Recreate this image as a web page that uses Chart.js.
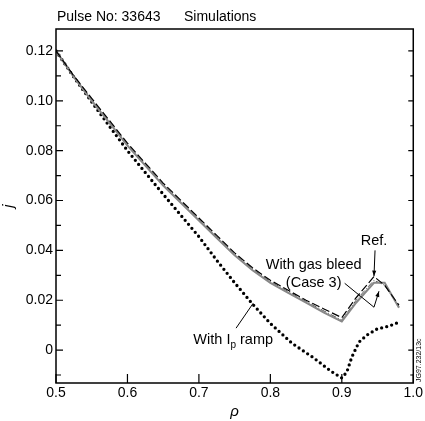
<!DOCTYPE html>
<html>
<head>
<meta charset="utf-8">
<script src="https://cdn.jsdelivr.net/npm/chart.js@4"></script>
<style>
  html, body { margin: 0; padding: 0; background: #fff; }
  #wrap { width: 425px; height: 421px; }
</style>
</head>
<body>
<div id="wrap"><canvas id="canvas" width="425" height="421"></canvas></div>
<script>
// data
var rhoMain = [0.5, 0.525, 0.55, 0.575, 0.6, 0.625, 0.65, 0.675, 0.7, 0.725, 0.75, 0.775, 0.8, 0.825, 0.85, 0.875, 0.9, 0.92, 0.945, 0.96, 0.98];
var jRef    = [0.120, 0.110, 0.101, 0.092, 0.083, 0.075, 0.067, 0.060, 0.053, 0.046, 0.039, 0.033, 0.028, 0.024, 0.020, 0.0165, 0.013, 0.021, 0.0295, 0.026, 0.018];
var jGas    = [0.120, 0.1095, 0.100, 0.091, 0.082, 0.074, 0.066, 0.059, 0.052, 0.045, 0.038, 0.032, 0.027, 0.023, 0.019, 0.015, 0.0115, 0.019, 0.027, 0.027, 0.017];
var jCase   = [0.120, 0.110, 0.1005, 0.0915, 0.0825, 0.0745, 0.0665, 0.0595, 0.0525, 0.0455, 0.0385, 0.0325, 0.0275, 0.0235, 0.0195, 0.0157, 0.012, 0.020, 0.028, 0.026, 0.0175];

var rhoRamp = [0.5, 0.525, 0.55, 0.575, 0.6, 0.625, 0.65, 0.675, 0.7, 0.725, 0.75, 0.775, 0.8, 0.83, 0.86, 0.885, 0.9, 0.907, 0.914, 0.924, 0.935, 0.949, 0.966, 0.98];
var jRamp   = [0.120, 0.1095, 0.0995, 0.0897, 0.080, 0.0712, 0.0625, 0.054, 0.0455, 0.036, 0.027, 0.0185, 0.0107, 0.0028, -0.003, -0.0085, -0.0112, -0.0088, -0.0028, 0.0032, 0.006, 0.0084, 0.0096, 0.0112];

var xTicks = [0.5, 0.6, 0.7, 0.8, 0.9, 1.0];
var yMajor = [0, 0.02, 0.04, 0.06, 0.08, 0.10, 0.12];
var yMinor = [-0.01, 0.01, 0.03, 0.05, 0.07, 0.09, 0.11];

function pts(xs, ys) {
  return xs.map(function (x, i) { return { x: x, y: ys[i] }; });
}

var FONT = '"Liberation Sans", Arial, sans-serif';

var decor = {
  id: 'decor',
  afterDraw: function (chart) {
    var c = chart.ctx, a = chart.chartArea;
    var xs = chart.scales.x, ys = chart.scales.y;
    c.save();
    // frame
    c.strokeStyle = '#000';
    c.lineWidth = 1.5;
    c.strokeRect(a.left, a.top, a.right - a.left, a.bottom - a.top);
    // inward ticks
    c.lineWidth = 1.2;
    c.beginPath();
    xTicks.forEach(function (v) {
      var px = xs.getPixelForValue(v);
      c.moveTo(px, a.bottom); c.lineTo(px, a.bottom - 9);
    });
    yMajor.forEach(function (v) {
      var py = ys.getPixelForValue(v);
      c.moveTo(a.left, py); c.lineTo(a.left + 7, py);
      c.moveTo(a.right, py); c.lineTo(a.right - 5, py);
    });
    yMinor.forEach(function (v) {
      var py = ys.getPixelForValue(v);
      c.moveTo(a.left, py); c.lineTo(a.left + 5, py);
      c.moveTo(a.right, py); c.lineTo(a.right - 3, py);
    });
    c.stroke();

    // title
    c.fillStyle = '#000';
    c.font = '14px ' + FONT;
    c.textBaseline = 'alphabetic';
    c.textAlign = 'left';
    c.fillText('Pulse No: 33643', 57, 21);
    c.fillText('Simulations', 184, 21);

    // annotations (placed in data units)
    function P(x, y) { return [xs.getPixelForValue(x), ys.getPixelForValue(y)]; }
    c.font = '14.5px ' + FONT;
    c.textAlign = 'center';
    c.textBaseline = 'middle';
    var p = P(0.945, 0.0436); c.fillText('Ref.', p[0], p[1]);
    p = P(0.8606, 0.034); c.fillText('With gas bleed', p[0], p[1]);
    p = P(0.8606, 0.0268); c.fillText('(Case 3)', p[0], p[1]);

    // With Ip ramp (subscript p)
    p = P(0.748, 0.004);
    c.textAlign = 'left';
    var w1 = c.measureText('With I').width;
    c.font = '10px ' + FONT;
    var wp = c.measureText('p').width;
    c.font = '14.5px ' + FONT;
    var w2 = c.measureText(' ramp').width;
    var x0 = p[0] - (w1 + wp + w2) / 2;
    c.fillText('With I', x0, p[1]);
    c.font = '10px ' + FONT;
    c.fillText('p', x0 + w1, p[1] + 5);
    c.font = '14.5px ' + FONT;
    c.fillText(' ramp', x0 + w1 + wp, p[1]);

    // leader lines and arrows
    c.lineWidth = 1;
    function arrow(from, to) {
      var ang = Math.atan2(to[1] - from[1], to[0] - from[0]);
      c.beginPath();
      c.moveTo(to[0], to[1]);
      c.lineTo(to[0] - 6 * Math.cos(ang - 0.35), to[1] - 6 * Math.sin(ang - 0.35));
      c.lineTo(to[0] - 6 * Math.cos(ang + 0.35), to[1] - 6 * Math.sin(ang + 0.35));
      c.closePath();
      c.fill();
    }
    var r1 = P(0.9465, 0.040), r2 = P(0.945, 0.0296);
    c.beginPath(); c.moveTo(r1[0], r1[1]); c.lineTo(r2[0], r2[1]); c.stroke();
    arrow(r1, r2);
    var g1 = P(0.904, 0.0268), g2 = P(0.945, 0.0172), g3 = P(0.952, 0.0236);
    c.beginPath(); c.moveTo(g1[0], g1[1]); c.lineTo(g2[0], g2[1]); c.lineTo(g3[0], g3[1]); c.stroke();
    arrow(g2, g3);
    var i1 = P(0.752, 0.0088), i2 = P(0.776, 0.0188);
    c.beginPath(); c.moveTo(i1[0], i1[1]); c.lineTo(i2[0], i2[1]); c.stroke();

    // figure id
    c.font = '7px ' + FONT;
    c.translate(419, 382);
    c.rotate(-Math.PI / 2);
    c.textAlign = 'left';
    c.textBaseline = 'middle';
    c.fillText('JG97.232/13c', 0, 0);
    c.restore();
  }
};

var options = {
  type: 'line',
  data: {
    datasets: [
      {
        label: 'Ref.',
        data: pts(rhoMain, jRef),
        borderColor: '#000',
        borderWidth: 1.2,
        borderDash: [8, 3],
        pointRadius: 0,
        fill: false
      },
      {
        label: 'With gas bleed (Case 3)',
        data: pts(rhoMain, jGas),
        borderColor: '#888',
        borderWidth: 2,
        pointRadius: 0,
        fill: false
      },
      {
        label: 'Case 3 edge',
        data: pts(rhoMain, jCase),
        borderColor: '#555',
        borderWidth: 1,
        borderDash: [6, 2, 1, 2],
        pointRadius: 0,
        fill: false
      },
      {
        label: 'With Ip ramp',
        data: pts(rhoRamp, jRamp),
        borderColor: '#000',
        borderWidth: 3.3,
        borderDash: [0, 5.2],
        borderCapStyle: 'round',
        pointRadius: 0,
        fill: false
      }
    ]
  },
  options: {
    responsive: false,
    animation: false,
    layout: { padding: { top: 29, right: 11, left: 0, bottom: 0 } },
    plugins: { legend: { display: false }, tooltip: { enabled: false } },
    scales: {
      x: {
        type: 'linear',
        min: 0.5,
        max: 1.0,
        afterBuildTicks: function (s) { s.ticks = xTicks.map(function (v) { return { value: v }; }); },
        afterFit: function (s) { s.height = 38; },
        ticks: {
          color: '#000',
          padding: 2,
          maxRotation: 0,
          font: { family: FONT, size: 14 },
          callback: function (v) { return v.toFixed(1); }
        },
        grid: { display: false, drawTicks: false },
        border: { display: false },
        title: {
          display: true,
          text: 'ρ',
          color: '#000',
          padding: { top: 2, bottom: 0 },
          font: { family: FONT, size: 15, style: 'italic' }
        }
      },
      y: {
        type: 'linear',
        min: -0.0132,
        max: 0.1288,
        afterBuildTicks: function (s) { s.ticks = yMajor.map(function (v) { return { value: v }; }); },
        afterFit: function (s) { s.width = 56; },
        ticks: {
          color: '#000',
          padding: 3,
          font: { family: FONT, size: 14 },
          callback: function (v) { return v === 0 ? '0' : v.toFixed(2); }
        },
        grid: { display: false, drawTicks: false },
        border: { display: false },
        title: {
          display: true,
          text: 'j',
          color: '#000',
          padding: { top: 0, bottom: 4 },
          font: { family: FONT, size: 15, style: 'italic' }
        }
      }
    }
  },
  plugins: [decor]
};

var ctx = document.getElementById('canvas').getContext('2d');
new Chart(ctx, options);
</script>
</body>
</html>
